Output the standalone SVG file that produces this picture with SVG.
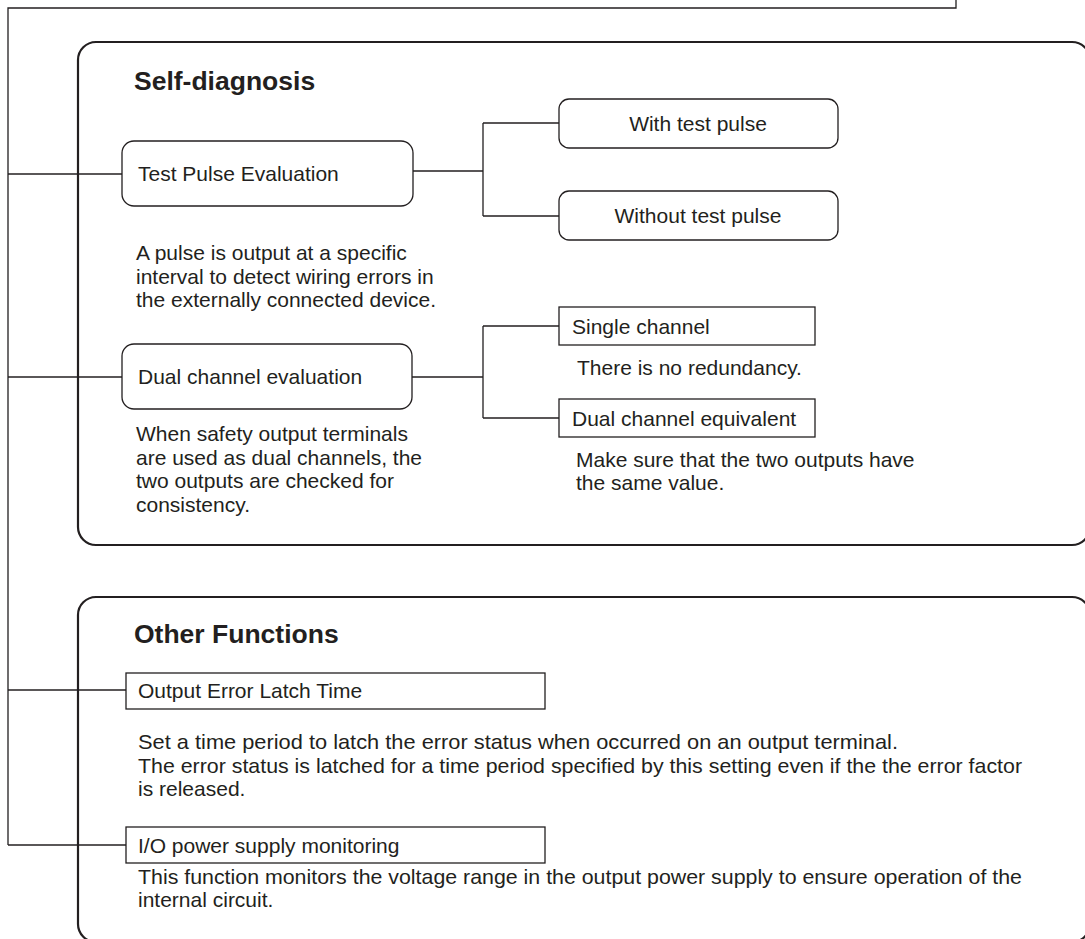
<svg xmlns="http://www.w3.org/2000/svg" width="1085" height="939" viewBox="0 0 1085 939">
<style>
text{font-family:"Liberation Sans",Arial,sans-serif;fill:#231f20;font-size:21px}
.t{font-size:26.5px;font-weight:bold}
.c{fill:none;stroke:#231f20;stroke-width:1.3}
.grp{fill:#fff;stroke:#231f20;stroke-width:2.2}
.rb{fill:#fff;stroke:#231f20;stroke-width:1.3}
.mid{text-anchor:middle}
</style>
<rect width="1085" height="939" fill="#fff"/>
<g id="group-self-diagnosis">
<rect class="grp" x="78" y="42" width="1012" height="503" rx="18"/>
<text class="t" x="134" y="90">Self-diagnosis</text>
</g>
<g id="group-other-functions">
<rect class="grp" x="78" y="597" width="1012" height="345" rx="18"/>
<text class="t" x="134" y="643">Other Functions</text>
</g>
<g id="connectors">
<path class="c" d="M956,0 V8 H8 V845"/>
<path class="c" d="M8,174 H122"/>
<path class="c" d="M8,377 H122"/>
<path class="c" d="M8,690 H126"/>
<path class="c" d="M8,845 H126"/>
<path class="c" d="M413,171 H483 M483,123 V216 M483,123 H559 M483,216 H559"/>
<path class="c" d="M412,377 H483 M483,326 V418 M483,326 H559 M483,418 H559"/>
</g>
<g id="node-test-pulse">
<rect class="rb" x="122" y="141" width="291" height="65" rx="12"/>
<text x="138" y="181">Test Pulse Evaluation</text>
<text x="136" y="260">A pulse is output at a specific</text>
<text x="136" y="284">interval to detect wiring errors in</text>
<text x="136" y="307">the externally connected device.</text>
</g>
<g id="node-with-test-pulse">
<rect class="rb" x="559" y="99" width="279" height="49" rx="10"/>
<text class="mid" x="698" y="131">With test pulse</text>
</g>
<g id="node-without-test-pulse">
<rect class="rb" x="559" y="191" width="279" height="49" rx="10"/>
<text class="mid" x="698" y="223">Without test pulse</text>
</g>
<g id="node-dual-channel">
<rect class="rb" x="122" y="344" width="290" height="65" rx="12"/>
<text x="138" y="384">Dual channel evaluation</text>
<text x="136" y="441">When safety output terminals</text>
<text x="136" y="465">are used as dual channels, the</text>
<text x="136" y="488">two outputs are checked for</text>
<text x="136" y="512">consistency.</text>
</g>
<g id="node-single-channel">
<rect class="rb" x="559" y="307" width="256" height="38"/>
<text x="572" y="334">Single channel</text>
<text x="577" y="375">There is no redundancy.</text>
</g>
<g id="node-dual-equivalent">
<rect class="rb" x="559" y="399" width="256" height="38"/>
<text x="572" y="426">Dual channel equivalent</text>
<text x="576" y="467">Make sure that the two outputs have</text>
<text x="576" y="490">the same value.</text>
</g>
<g id="node-latch-time">
<rect class="rb" x="126" y="673" width="419" height="36"/>
<text x="138" y="698">Output Error Latch Time</text>
<text x="138" y="749" textLength="760" lengthAdjust="spacingAndGlyphs">Set a time period to latch the error status when occurred on an output terminal.</text>
<text x="138" y="773" textLength="884" lengthAdjust="spacingAndGlyphs">The error status is latched for a time period specified by this setting even if the the error factor</text>
<text x="138" y="796">is released.</text>
</g>
<g id="node-io-power">
<rect class="rb" x="126" y="827" width="419" height="36"/>
<text x="138" y="853">I/O power supply monitoring</text>
<text x="138" y="884" textLength="884" lengthAdjust="spacingAndGlyphs">This function monitors the voltage range in the output power supply to ensure operation of the</text>
<text x="138" y="907">internal circuit.</text>
</g>
</svg>
